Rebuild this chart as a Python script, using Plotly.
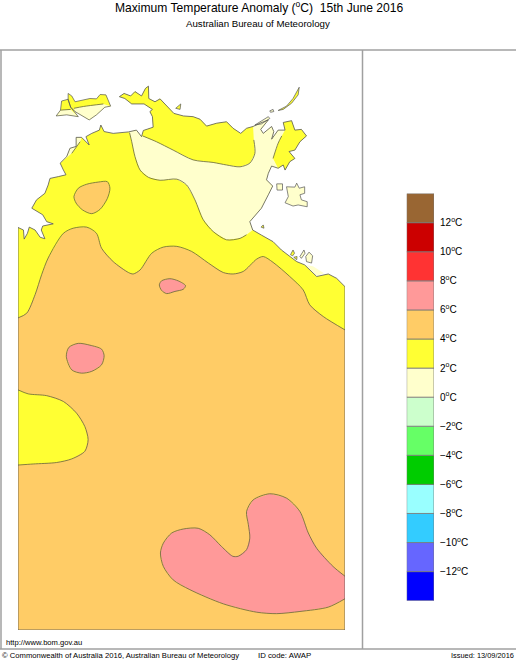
import plotly.graph_objects as go

# colours of the anomaly classes
PALE = "#FFFFCC"
YELLOW = "#FFFF33"
ORANGE = "#FFCC66"
PINK = "#FF9999"

# legend
legend_base = [-14, -12, -10, -8, -6, -4, -2, 0, 2, 4, 6, 8, 10, 12]
legend_height = [2] * 14
legend_colors = ["#0000FF", "#6666FF", "#33CCFF", "#99FFFF", "#00CC00", "#66FF66", "#CCFFCC",
                 PALE, YELLOW, ORANGE, PINK, "#FF3333", "#CC0000", "#996633"]
tick_values = [-12, -10, -8, -6, -4, -2, 0, 2, 4, 6, 8, 10, 12]
tick_labels = ["\u2212%d<sup>o</sup>C" % abs(v) if v < 0 else "%d<sup>o</sup>C" % v for v in tick_values]

# coastline, digitised in lon/lat, in sections that follow the colour changes
coast_west_lon = [129.0, 129.15, 129.17, 129.26, 129.31, 129.47, 129.61, 129.74, 129.64, 129.68, 129.97, 129.79,
                  129.68, 129.51, 129.38, 129.51, 129.61, 129.74, 129.83, 129.88, 130.11, 130.32, 130.25]
coast_west_lat = [-14.92, -14.99, -15.24, -15.08, -14.91, -14.99, -15.19, -15.23, -14.99, -14.88, -14.82, -14.76,
                  -14.57, -14.48, -14.39, -14.16, -14.09, -13.98, -13.75, -13.57, -13.52, -13.47, -13.34]
coast_fringe_lon = [130.16, 130.34, 130.43, 130.60, 130.60, 130.75]
coast_fringe_lat = [-13.15, -12.97, -12.74, -12.69, -12.44, -12.44]
fringe_back_lon = [130.71, 130.48]
fringe_back_lat = [-12.56, -12.88]
coast_darwin_lon = [130.80, 130.96, 130.87, 131.03, 131.24, 131.28, 131.37, 131.62, 132.04]
coast_darwin_lat = [-12.49, -12.65, -12.42, -12.33, -12.24, -12.10, -12.28, -12.33, -12.29]
coast_gap_lon = [132.26]
coast_gap_lat = [-12.24]
coast_north_lon = [132.40, 132.45, 132.72, 132.70, 132.63, 132.70, 132.47, 132.13, 131.94, 131.79, 131.92, 132.10,
                   132.22, 132.40, 132.51, 132.59, 132.60, 132.77, 132.91, 133.09, 133.29, 133.55, 133.82, 134.01,
                   134.19, 134.47, 134.74, 134.92, 135.13, 135.29, 135.47]
coast_north_lat = [-12.42, -12.25, -12.16, -11.87, -11.73, -11.67, -11.52, -11.52, -11.37, -11.32, -11.23, -11.30,
                   -11.18, -11.30, -11.09, -11.03, -11.37, -11.46, -11.38, -11.58, -11.78, -11.85, -11.87, -11.94,
                   -12.13, -12.05, -12.01, -12.19, -12.33, -12.19, -12.14]
coast_bay_lon = [135.66, 135.89, 135.68, 135.75, 135.98, 136.04, 135.98, 136.16]
coast_bay_lat = [-12.05, -11.96, -12.22, -12.33, -12.14, -12.28, -12.49, -12.24]
coast_gove_lon = [136.35, 136.30, 136.53, 136.62, 136.80, 136.94, 136.76, 136.62, 136.46, 136.62, 136.48, 136.35,
                  136.30, 136.16]
coast_gove_lat = [-12.24, -12.03, -11.98, -12.24, -12.22, -12.40, -12.56, -12.79, -12.83, -13.02, -13.11, -13.34,
                  -13.20, -13.29]
coast_east_lon = [135.98, 135.89, 135.84, 136.01, 135.89, 135.70, 135.38, 135.46]
coast_east_lat = [-13.23, -13.43, -13.61, -13.78, -14.02, -14.39, -14.76, -14.99]
coast_south_lon = [135.70, 136.02, 136.25, 136.30, 136.53, 136.67, 136.89, 137.22, 137.54, 137.77, 138.0]
coast_south_lat = [-15.13, -15.31, -15.54, -15.58, -15.77, -15.86, -15.95, -16.27, -16.20, -16.32, -16.55]
corner_lon = [138.0, 129.0]
corner_lat = [-26.0, -26.0]

# contours
pale_edge_lon = [135.29, 135.11, 134.74, 134.37, 134.10, 133.87, 133.64, 133.37, 132.91, 132.59, 132.36, 132.22,
                 132.13, 132.07]
pale_edge_lat = [-15.12, -15.22, -15.26, -15.03, -14.71, -14.16, -13.75, -13.59, -13.62, -13.54, -13.34, -12.97,
                 -12.56, -12.31]
north_edge_lon = [135.49, 135.52, 135.38, 135.11, 134.74, 134.37, 133.82, 133.27, 132.81, 132.43]
north_edge_lat = [-12.51, -12.88, -13.15, -13.25, -13.20, -13.13, -13.06, -12.79, -12.56, -12.40]
gove_edge_lon = [136.02, 136.16, 136.26]
gove_edge_lat = [-13.02, -12.60, -12.40]
orange_edge_lon = [129.0, 129.24, 129.47, 129.65, 129.83, 130.25, 130.52, 130.89, 131.16, 131.30, 131.62, 132.04,
                   132.17, 132.36, 132.68, 133.0, 133.37, 133.78, 134.24, 134.65, 134.92, 135.20, 135.57, 135.75,
                   136.02, 136.48, 136.85, 137.03, 137.40, 138.0]
orange_edge_lat = [-17.41, -17.28, -16.77, -16.22, -15.76, -15.08, -14.94, -14.91, -15.08, -15.49, -15.86, -16.16,
                   -16.20, -16.09, -15.63, -15.46, -15.44, -15.58, -15.90, -16.16, -16.20, -16.13, -15.79, -15.72,
                   -15.88, -16.27, -16.64, -17.05, -17.37, -17.74]
sw_yellow_lon = [129.0, 129.28, 129.79, 130.25, 130.61, 130.84, 130.93, 130.84, 130.48, 130.06, 129.42, 129.0]
sw_yellow_lat = [-19.39, -19.50, -19.55, -19.71, -20.03, -20.40, -20.76, -21.08, -21.29, -21.39, -21.43, -21.46]
orange_blob_lon = [130.54, 130.66, 130.89, 131.21, 131.46, 131.53, 131.46, 131.26, 131.03, 130.78, 130.60, 130.54]
orange_blob_lat = [-14.07, -13.84, -13.73, -13.67, -13.66, -13.84, -14.12, -14.42, -14.54, -14.44, -14.25, -14.07]
pink_small_lon = [132.89, 132.95, 133.18, 133.41, 133.61, 133.55, 133.32, 133.09, 132.95, 132.89]
pink_small_lat = [-16.50, -16.39, -16.33, -16.39, -16.52, -16.62, -16.68, -16.74, -16.65, -16.50]
pink_west_lon = [130.33, 130.40, 130.66, 130.98, 131.30, 131.37, 131.30, 131.03, 130.75, 130.48, 130.33]
pink_west_lat = [-18.47, -18.22, -18.11, -18.16, -18.27, -18.45, -18.70, -18.88, -18.93, -18.84, -18.47]
pink_big_lon = [138.0, 137.54, 136.76, 136.12, 135.57, 134.65, 133.73, 133.27, 133.0, 132.92, 133.0, 133.23, 133.55,
                133.96, 134.28, 134.60, 134.91, 135.06, 135.29, 135.38, 135.34, 135.29, 135.47, 135.93, 136.39,
                136.76, 136.99, 137.22, 137.67, 138.0]
pink_big_lat = [-25.14, -25.37, -25.49, -25.55, -25.51, -25.28, -24.89, -24.62, -24.25, -23.88, -23.61, -23.33,
                -23.22, -23.20, -23.38, -23.70, -23.97, -23.97, -23.79, -23.47, -23.10, -22.74, -22.42, -22.25,
                -22.37, -22.74, -23.33, -23.75, -24.25, -24.52]

# islands
melville_lon = [130.38, 130.48, 130.57, 130.80, 130.98, 131.16, 131.26, 131.42, 131.55, 131.39, 131.16, 130.96, 130.80,
                130.57, 130.45, 130.38, 130.38]
melville_lat = [-11.23, -11.30, -11.46, -11.41, -11.37, -11.38, -11.26, -11.27, -11.58, -11.61, -11.82, -11.96, -11.87,
                -11.73, -11.61, -11.41, -11.23]
melville_pale_lon = [130.54, 130.80, 131.35, 131.55, 131.39, 131.16, 130.96, 130.80, 130.57, 130.54]
melville_pale_lat = [-11.64, -11.59, -11.52, -11.58, -11.61, -11.82, -11.96, -11.87, -11.73, -11.64]
bathurst_lon = [130.20, 130.38, 130.45, 130.66, 130.34, 130.05, 130.17, 130.20]
bathurst_lat = [-11.44, -11.39, -11.61, -11.87, -11.82, -11.85, -11.69, -11.44]
bathurst_pale_lon = [130.17, 130.45, 130.66, 130.34, 130.05, 130.17]
bathurst_pale_lat = [-11.69, -11.67, -11.87, -11.82, -11.85, -11.69]
groote_lon = [136.39, 136.62, 136.67, 136.74, 136.89, 136.89, 136.76, 136.80, 136.96, 136.96, 136.71, 136.57, 136.35,
              136.44, 136.39]
groote_lat = [-13.80, -13.81, -13.70, -13.84, -13.80, -13.98, -14.02, -14.16, -14.21, -14.35, -14.30, -14.33, -14.24,
              -14.07, -13.80]
elcho_lon = [136.16, 136.39, 136.57, 136.69, 136.74, 136.71, 136.53, 136.30, 136.16]
elcho_lat = [-11.70, -11.58, -11.37, -11.14, -11.06, -11.27, -11.50, -11.67, -11.70]
islet_a_lon = [135.93, 136.02, 136.04, 135.95, 135.93]
islet_a_lat = [-11.71, -11.67, -11.73, -11.75, -11.71]
islet_b_lon = [135.52, 135.89, 135.93, 135.70, 135.52]
islet_b_lat = [-12.10, -11.87, -11.92, -12.07, -12.10]
islet_c_lon = [136.12, 136.28, 136.28, 136.13, 136.12]
islet_c_lat = [-13.72, -13.72, -13.89, -13.89, -13.72]
islet_d_lon = [135.69, 135.75, 135.77, 135.69]
islet_d_lat = [-14.91, -14.85, -14.94, -14.91]
islet_e_lon = [136.50, 136.57, 136.61, 136.56, 136.50]
islet_e_lat = [-15.67, -15.54, -15.63, -15.70, -15.67]
islet_f_lon = [136.76, 136.87, 136.90, 136.80, 136.76]
islet_f_lat = [-15.72, -15.54, -15.63, -15.77, -15.72]
islet_g_lon = [136.92, 137.01, 137.11, 137.08, 136.94, 136.92]
islet_g_lat = [-15.72, -15.60, -15.70, -15.90, -15.86, -15.72]
islet_h_lon = [136.59, 136.68, 136.67, 136.59]
islet_h_lat = [-15.74, -15.72, -15.81, -15.74]
islet_i_lon = [133.34, 133.48, 133.46, 133.34]
islet_i_lat = [-11.64, -11.52, -11.67, -11.64]
gulf_fringe_lon = [136.92, 137.22, 137.42, 137.12, 136.92]
gulf_fringe_lat = [-15.95, -16.25, -16.18, -15.99, -15.95]

W, H = 516, 660
LINE = "#66663A"
COAST = "#555555"
FRAME = "#A0A0A0"
FONT = "Liberation Sans, Arial, sans-serif"

fig = go.Figure()


def add_fill(lon, lat, color):
    fig.add_trace(go.Scatter(x=lon, y=lat, mode="lines", fill="toself", fillcolor=color,
                             line=dict(width=0, color=color), hoverinfo="skip", showlegend=False))


def add_line(lon, lat, color=LINE, smooth=True, width=0.8):
    line = dict(width=width, color=color)
    if smooth:
        line.update(shape="spline", smoothing=0.8)
    fig.add_trace(go.Scatter(x=lon, y=lat, mode="lines", line=line, hoverinfo="skip", showlegend=False))


land_lon = (coast_west_lon + coast_fringe_lon + coast_darwin_lon + coast_gap_lon + coast_north_lon + coast_bay_lon
            + coast_gove_lon + coast_east_lon + coast_south_lon + corner_lon + coast_west_lon[:1])
land_lat = (coast_west_lat + coast_fringe_lat + coast_darwin_lat + coast_gap_lat + coast_north_lat + coast_bay_lat
            + coast_gove_lat + coast_east_lat + coast_south_lat + corner_lat + coast_west_lat[:1])

# mainland and the classes on top of it
add_fill(land_lon, land_lat, YELLOW)
add_fill(coast_fringe_lon + fringe_back_lon, coast_fringe_lat + fringe_back_lat, PALE)
add_fill(coast_darwin_lon[-1:] + coast_gap_lon + coast_north_lon + coast_bay_lon + coast_gove_lon + coast_east_lon
         + pale_edge_lon,
         coast_darwin_lat[-1:] + coast_gap_lat + coast_north_lat + coast_bay_lat + coast_gove_lat + coast_east_lat
         + pale_edge_lat, PALE)
add_fill(coast_north_lon + north_edge_lon, coast_north_lat + north_edge_lat, YELLOW)
add_fill(coast_gove_lon + gove_edge_lon, coast_gove_lat + gove_edge_lat, YELLOW)
add_fill(gulf_fringe_lon, gulf_fringe_lat, PALE)
add_fill(orange_edge_lon + corner_lon, orange_edge_lat + corner_lat, ORANGE)
add_fill(sw_yellow_lon, sw_yellow_lat, YELLOW)
add_fill(orange_blob_lon, orange_blob_lat, ORANGE)
add_fill(pink_small_lon, pink_small_lat, PINK)
add_fill(pink_west_lon, pink_west_lat, PINK)
add_fill(pink_big_lon, pink_big_lat, PINK)

# islands
add_fill(melville_lon, melville_lat, YELLOW)
add_fill(melville_pale_lon, melville_pale_lat, PALE)
add_fill(bathurst_lon, bathurst_lat, YELLOW)
add_fill(bathurst_pale_lon, bathurst_pale_lat, PALE)
add_fill(groote_lon, groote_lat, PALE)
add_fill(elcho_lon, elcho_lat, YELLOW)
for lon, lat, color in [(islet_a_lon, islet_a_lat, PALE), (islet_b_lon, islet_b_lat, PALE),
                        (islet_c_lon, islet_c_lat, PALE), (islet_d_lon, islet_d_lat, YELLOW),
                        (islet_e_lon, islet_e_lat, YELLOW), (islet_f_lon, islet_f_lat, PALE),
                        (islet_g_lon, islet_g_lat, PALE), (islet_h_lon, islet_h_lat, YELLOW),
                        (islet_i_lon, islet_i_lat, YELLOW)]:
    add_fill(lon, lat, color)
    add_line(lon, lat, COAST, smooth=False, width=0.7)

# contour lines
for lon, lat in [(pale_edge_lon, pale_edge_lat), (north_edge_lon, north_edge_lat), (gove_edge_lon, gove_edge_lat),
                 (orange_edge_lon, orange_edge_lat), (sw_yellow_lon, sw_yellow_lat),
                 (orange_blob_lon, orange_blob_lat), (pink_small_lon, pink_small_lat),
                 (pink_west_lon, pink_west_lat), (pink_big_lon, pink_big_lat),
                 (melville_pale_lon[:3], melville_pale_lat[:3]), (bathurst_pale_lon[:2], bathurst_pale_lat[:2]),
                 (fringe_back_lon, fringe_back_lat)]:
    add_line(lon, lat)

# coastline last so it sits on the fills
add_line(land_lon, land_lat, COAST, smooth=False, width=0.8)
for lon, lat in [(melville_lon, melville_lat), (bathurst_lon, bathurst_lat), (groote_lon, groote_lat),
                 (elcho_lon, elcho_lat)]:
    add_line(lon, lat, COAST, smooth=False, width=0.7)

# legend boxes
fig.add_trace(go.Bar(x=[0] * 14, y=legend_height, base=legend_base, width=1, xaxis="x2", yaxis="y2",
                     marker=dict(color=legend_colors, line=dict(color="#777777", width=0.8)),
                     hoverinfo="skip", showlegend=False))

texts = [
    ("Maximum Temperature Anomaly (<sup>o</sup>C)  15th June 2016", 258.5, 6.5, 12.1, "center"),
    ("Australian Bureau of Meteorology", 257.5, 23.5, 9.7, "center"),
    ("http://www.bom.gov.au", 4, 642, 7.6, "left"),
    ("\u00a9 Commonwealth of Australia 2016, Australian Bureau of Meteorology", 0, 655, 7.65, "left"),
    ("ID code: AWAP", 256, 655, 7.8, "left"),
    ("Issued: 13/09/2016", 516, 655, 7.4, "right"),
]
annotations = [dict(text=t, x=x / W, y=1 - y / H, xref="paper", yref="paper", xanchor=a, yanchor="middle",
                    showarrow=False, font=dict(size=s, color="black", family=FONT))
               for t, x, y, s, a in texts]

frame = [(0, 50, W, 50), (1, 50, 1, 649), (0, 649, W, 649), (362.5, 50, 362.5, 649)]
shapes = [dict(type="line", xref="paper", yref="paper", x0=a / W, x1=c / W, y0=1 - b / H, y1=1 - d / H,
               line=dict(color=FRAME, width=1.5), layer="below") for a, b, c, d in frame]

fig.update_layout(
    width=W, height=H, margin=dict(l=0, r=0, t=0, b=0), autosize=False,
    paper_bgcolor="white", plot_bgcolor="rgba(0,0,0,0)", showlegend=False, barmode="overlay",
    annotations=annotations, shapes=shapes, font=dict(family=FONT, color="black"),
    xaxis=dict(domain=[18 / W, 345 / W], range=[129, 138], visible=False, fixedrange=True),
    yaxis=dict(domain=[30 / H, 610 / H], range=[-26, -10.035], visible=False, fixedrange=True),
    xaxis2=dict(domain=[406.7 / W, 434 / W], range=[-0.5, 0.5], visible=False, anchor="y2", fixedrange=True),
    yaxis2=dict(domain=[59.3 / H, 466.4 / H], range=[-14, 14], anchor="x2", side="right", tickmode="array",
                tickvals=tick_values, ticktext=tick_labels, showgrid=False, zeroline=False, showline=False,
                ticks="outside", ticklen=3, tickcolor="rgba(0,0,0,0)", tickfont=dict(size=10, color="black"),
                fixedrange=True),
)

fig.write_html("out.html", config=dict(displayModeBar=False), post_script="document.body.style.margin='0';")
